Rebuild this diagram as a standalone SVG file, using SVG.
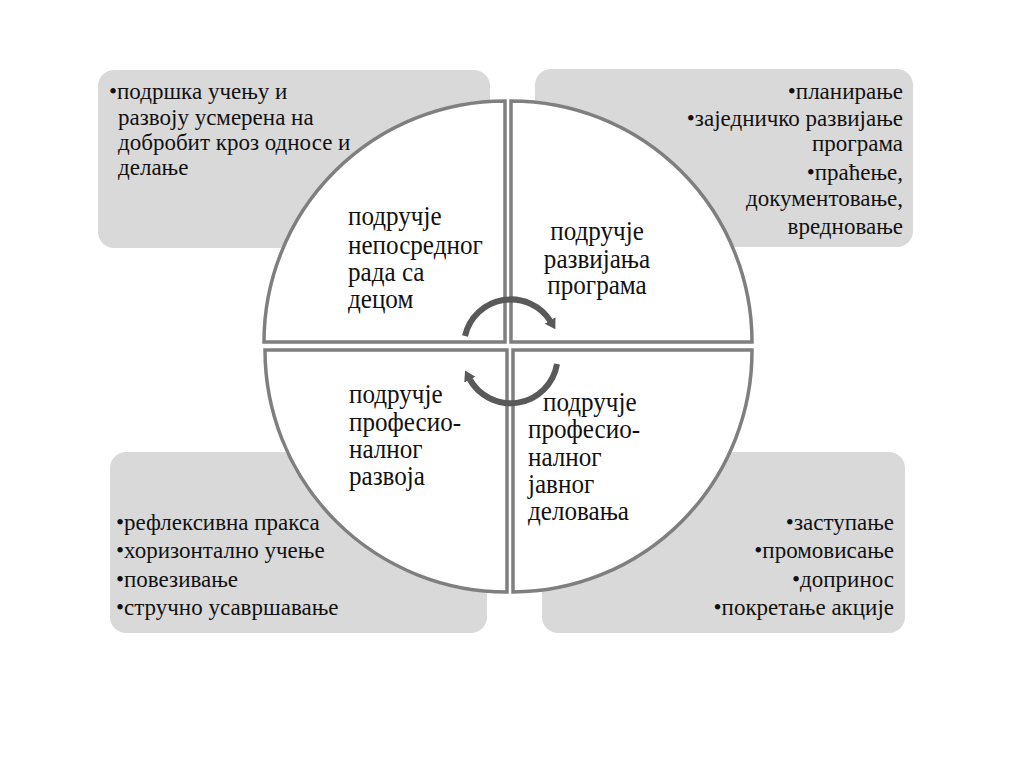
<svg xmlns="http://www.w3.org/2000/svg" width="1024" height="768" viewBox="0 0 1024 768">
<style>
.box{fill:#d9d9d9;}
.q{fill:#ffffff;stroke:#7f7f7f;stroke-width:3.5;stroke-linejoin:miter;}
.arc{fill:none;stroke:#595959;stroke-width:6;}
</style>
<defs>
<marker id="ah" markerWidth="3" markerHeight="3" refX="0.3" refY="1.05" orient="auto" markerUnits="strokeWidth">
<path d="M0,0 L1.7,1.05 L0,2.1 Z" fill="#595959"/>
</marker>
</defs>
<rect width="1024" height="768" fill="#ffffff"/>
<g font-family="Liberation Serif, serif" font-size="23" fill="#111">
<g id="box-tl"><rect class="box" x="98" y="70" width="392" height="178" rx="16"/>
<text x="109" y="99">•подршка учењу и</text>
<text x="118" y="125">развоју усмерена на</text>
<text x="118" y="150">добробит кроз односе и</text>
<text x="118" y="175">делање</text></g>
<g id="box-tr"><rect class="box" x="535" y="69" width="378" height="178" rx="16"/>
<g text-anchor="end"><text x="903" y="99">•планирање</text>
<text x="903" y="126">•заједничко развијање</text>
<text x="903" y="151">програма</text>
<text x="903" y="180">•праћење,</text>
<text x="903" y="206">документовање,</text>
<text x="903" y="234">вредновање</text></g></g>
<g id="box-bl"><rect class="box" x="110" y="452" width="377" height="181" rx="16"/>
<text x="116" y="530">•рефлексивна пракса</text>
<text x="116" y="558">•хоризонтално учење</text>
<text x="116" y="587">•повезивање</text>
<text x="116" y="615">•стручно усавршавање</text></g>
<g id="box-br"><rect class="box" x="542" y="452" width="363" height="181" rx="16"/>
<g text-anchor="end"><text x="894" y="530">•заступање</text>
<text x="894" y="558">•промовисање</text>
<text x="894" y="587">•допринос</text>
<text x="894" y="615">•покретање акције</text></g></g>
</g>
<g font-family="Liberation Serif, serif" font-size="27" fill="#111">
<g id="q-tl"><path class="q" d="M505 342 L264 342 A241 241 0 0 1 505 101 Z"/>
<text transform="translate(348 225) scale(0.93 1)">подручје</text>
<text transform="translate(348 254) scale(0.93 1)">непосредног</text>
<text transform="translate(348 281) scale(0.93 1)">рада са</text>
<text transform="translate(348 308) scale(0.93 1)">децом</text></g>
<g id="q-tr"><path class="q" d="M511 342 L511 101 A241 241 0 0 1 752 342 Z"/>
<g text-anchor="middle"><text transform="translate(597 240) scale(0.93 1)">подручје</text>
<text transform="translate(597 268) scale(0.93 1)">развијања</text>
<text transform="translate(597 294) scale(0.93 1)">програма</text></g></g>
<g id="q-bl"><path class="q" d="M507 350 L507 592 A242 242 0 0 1 265 350 Z"/>
<text transform="translate(349 403) scale(0.93 1)">подручје</text>
<text transform="translate(349 431) scale(0.93 1)">професио-</text>
<text transform="translate(349 458) scale(0.93 1)">налног</text>
<text transform="translate(349 485) scale(0.93 1)">развоја</text></g>
<g id="q-br"><path class="q" d="M513 350 L752 350 A240 241 0 0 1 513 592 Z"/>
<text transform="translate(543 411) scale(0.93 1)">подручје</text>
<text transform="translate(528 438) scale(0.93 1)">професио-</text>
<text transform="translate(528 466) scale(0.93 1)">налног</text>
<text transform="translate(528 493) scale(0.93 1)">јавног</text>
<text transform="translate(528 520) scale(0.93 1)">деловања</text></g>
</g>
<g id="connectors">
<path class="arc" d="M465 336 A47 47 0 0 1 551 322" marker-end="url(#ah)"/>
<path class="arc" d="M557 364 A47 47 0 0 1 469 378" marker-end="url(#ah)"/>
</g>
</svg>
